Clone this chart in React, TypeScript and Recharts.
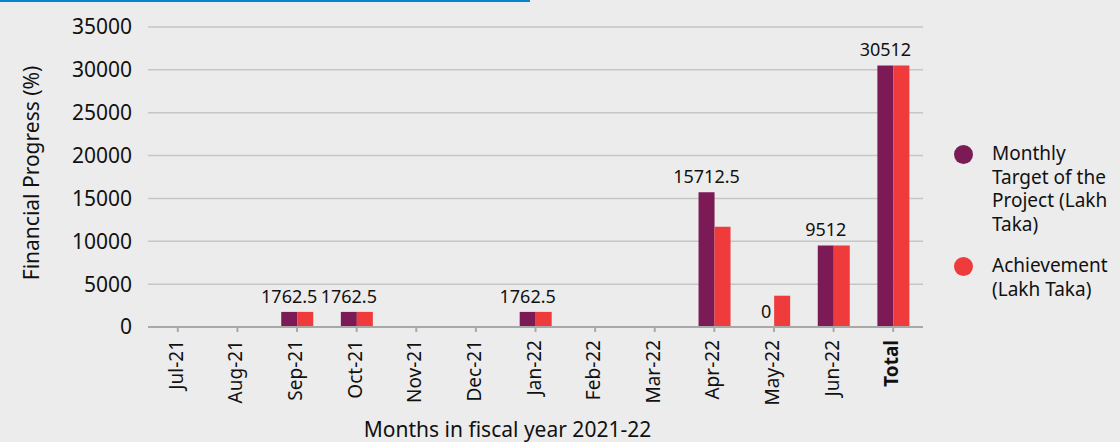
import { BarChart, Bar, XAxis, YAxis, CartesianGrid, LabelList, Label } from 'recharts';

const months = ['Jul-21', 'Aug-21', 'Sep-21', 'Oct-21', 'Nov-21', 'Dec-21', 'Jan-22', 'Feb-22', 'Mar-22', 'Apr-22', 'May-22', 'Jun-22', 'Total'];
const target = [null, null, 1762.5, 1762.5, null, null, 1762.5, null, null, 15712.5, 0, 9512, 30512];
const achievement = [null, null, 1762.5, 1762.5, null, null, 1762.5, null, null, 11700, 3650, 9512, 30512];
const yTicks = [0, 5000, 10000, 15000, 20000, 25000, 30000, 35000];

const series = [
  { key: 'target', name: ['Monthly', 'Target of the', 'Project (Lakh', 'Taka)'], color: '#7b1a55' },
  { key: 'achievement', name: ['Achievement', '(Lakh Taka)'], color: '#ef3b3b' },
];

const data = months.map((m, i) => ({ month: m, target: target[i], achievement: achievement[i] }));

const FONT = "'Noto Sans', sans-serif";

function MonthTick(props: any) {
  const { x, y, payload } = props;
  const bold = payload.value === 'Total';
  return (
    <g transform={`translate(${x - 2},${y})`}>
      <text x={0} y={0} transform="rotate(-90)" textAnchor="end" dominantBaseline="central"
        fontSize={19} fontWeight={bold ? 700 : 400} fill="#111" fontFamily={FONT}>
        {payload.value}
      </text>
    </g>
  );
}

export default function App() {
  return (
    <div style={{ position: 'fixed', left: 0, top: 0, width: 1120, height: 442, background: '#ececec', overflow: 'hidden', fontFamily: FONT }}>
      <div style={{ position: 'absolute', left: 0, top: 0, width: 530, height: 2, background: '#0a84c8' }} />
      <BarChart width={1120} height={442} data={data} margin={{ top: 27, right: 197, bottom: 0, left: 0 }}
        barGap={0} barSize={16} style={{ fontFamily: FONT }}>
        <CartesianGrid vertical={false} stroke="#c6c6c6" strokeWidth={1.5} />
        <YAxis type="number" domain={[0, 35000]} ticks={yTicks} width={148} axisLine={false} tickLine={false}
          tickSize={0} tickMargin={16} tick={{ fontSize: 21, fill: '#111' }}>
          <Label content={(p: any) => (
            <text x={31} y={p.viewBox.y + p.viewBox.height / 2 - 4} transform={`rotate(-90, 31, ${p.viewBox.y + p.viewBox.height / 2 - 4})`}
              textAnchor="middle" dominantBaseline="central" fontSize={21} fill="#111" fontFamily={FONT}>
              Financial Progress (%)
            </text>
          )} />
        </YAxis>
        <XAxis dataKey="month" height={115} interval={0} axisLine={{ stroke: '#a8a8a8', strokeWidth: 2 }}
          tickLine={{ stroke: '#a8a8a8', strokeWidth: 2 }} tickSize={5} tickMargin={8} tick={<MonthTick />}>
          <Label content={(p: any) => (
            <text x={p.viewBox.x + p.viewBox.width / 2 - 28} y={437} textAnchor="middle" fontSize={21} fill="#111" fontFamily={FONT}>
              Months in fiscal year 2021-22
            </text>
          )} />
        </XAxis>
        <Bar dataKey="target" fill={series[0].color} isAnimationActive={false}
          minPointSize={(v: any) => (v === 0 ? 0.01 : 0)}>
          <LabelList dataKey="target" position="top" offset={9} fontSize={18} fill="#111" fontFamily={FONT} />
        </Bar>
        <Bar dataKey="achievement" fill={series[1].color} isAnimationActive={false} />
      </BarChart>
      <div style={{ position: 'absolute', left: 954, top: 142, whiteSpace: 'nowrap' }}>
        {series.map((s, i) => (
          <div key={s.key} style={{ position: 'relative', paddingLeft: 38, marginBottom: i === 0 ? 18 : 0, fontSize: 19, lineHeight: '23.5px', color: '#111' }}>
            <span style={{ position: 'absolute', left: 0, top: 3, width: 19, height: 19, borderRadius: '50%', background: s.color }} />
            {s.name.map((line) => <div key={line}>{line}</div>)}
          </div>
        ))}
      </div>
    </div>
  );
}
